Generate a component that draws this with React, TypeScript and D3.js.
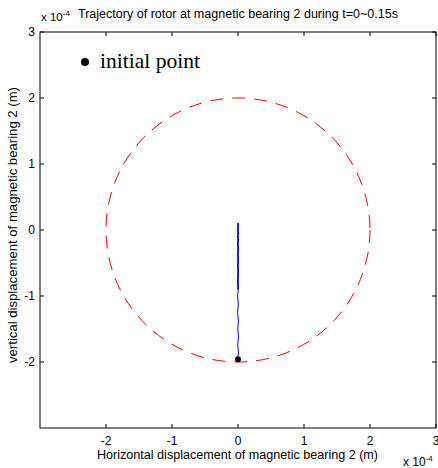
import React, { useRef, useEffect } from 'react';
import * as d3 from 'd3';

// values in units of 1e-4 m
const xTicks = [-2, -1, 0, 1, 2, 3];
const yTicks = [-2, -1, 0, 1, 2, 3];
const clearanceRadius = 2;
const initialPoint = { x: 0, y: -1.96 };
const trajX = [0, 0.006, -0.005, 0.008, -0.004, 0.007, -0.006, 0.005, -0.007, 0.006, -0.005, 0.008, -0.006, 0.009, -0.008, 0.01, -0.009, 0.011, -0.01, 0.012, -0.011, 0.012, -0.012, 0.013, -0.012, 0.013];
const trajY = [-1.96, -1.85, -1.74, -1.62, -1.5, -1.38, -1.25, -1.12, -1.0, -0.88, -0.76, -0.64, -0.54, -0.44, -0.36, -0.28, -0.21, -0.15, -0.1, -0.05, -0.01, 0.03, 0.06, 0.08, 0.09, 0.1];

const App = () => {
  const svgRef = useRef<SVGSVGElement>(null);

  useEffect(() => {
    const svg = d3.select(svgRef.current);
    svg.selectAll('*').remove();

    const left = 40, right = 436, top = 32, bottom = 428;
    const x = d3.scaleLinear().domain([-3, 3]).range([left, right]);
    const y = d3.scaleLinear().domain([-3, 3]).range([bottom, top]);
    const font = 'Arial, "Liberation Sans", sans-serif';

    // clearance circle
    svg.append('circle')
      .attr('cx', x(0))
      .attr('cy', y(0))
      .attr('r', x(clearanceRadius) - x(0))
      .attr('fill', 'none')
      .attr('stroke', '#ff0000')
      .attr('stroke-width', 1)
      .attr('stroke-dasharray', '13,9');

    // rotor trajectory
    const pts = trajY.map((v, i) => [trajX[i], v] as [number, number]);
    const line = d3.line<[number, number]>().x(d => x(d[0])).y(d => y(d[1]));
    svg.append('path')
      .attr('d', line(pts))
      .attr('fill', 'none')
      .attr('stroke', '#0000ff')
      .attr('stroke-width', 1);
    svg.append('rect')
      .attr('x', x(-0.012))
      .attr('y', y(0.1))
      .attr('width', x(0.012) - x(-0.012))
      .attr('height', y(-0.9) - y(0.1))
      .attr('fill', '#0000ff');

    svg.append('circle')
      .attr('cx', x(initialPoint.x))
      .attr('cy', y(initialPoint.y))
      .attr('r', 3)
      .attr('fill', '#000');

    // frame
    svg.append('rect')
      .attr('x', left).attr('y', top)
      .attr('width', right - left).attr('height', bottom - top)
      .attr('fill', 'none').attr('stroke', '#000').attr('stroke-width', 1);

    // ticks
    const tl = 4;
    xTicks.forEach(t => {
      svg.append('line').attr('x1', x(t)).attr('x2', x(t)).attr('y1', bottom).attr('y2', bottom - tl).attr('stroke', '#000');
      svg.append('line').attr('x1', x(t)).attr('x2', x(t)).attr('y1', top).attr('y2', top + tl).attr('stroke', '#000');
      svg.append('text').attr('x', x(t)).attr('y', bottom + 17).attr('text-anchor', 'middle')
        .attr('font-family', font).attr('font-size', 12).text(t);
    });
    yTicks.forEach(t => {
      svg.append('line').attr('x1', left).attr('x2', left + tl).attr('y1', y(t)).attr('y2', y(t)).attr('stroke', '#000');
      svg.append('line').attr('x1', right).attr('x2', right - tl).attr('y1', y(t)).attr('y2', y(t)).attr('stroke', '#000');
      svg.append('text').attr('x', left - 5).attr('y', y(t) + 4).attr('text-anchor', 'end')
        .attr('font-family', font).attr('font-size', 12).text(t);
    });

    // exponent labels
    const expTop = svg.append('text').attr('x', 41).attr('y', 21).attr('font-family', font).attr('font-size', 11.5);
    expTop.append('tspan').text('x 10');
    expTop.append('tspan').attr('dy', -5).attr('font-size', 8).text('-4');
    const expBot = svg.append('text').attr('x', 403).attr('y', 466).attr('font-family', font).attr('font-size', 12);
    expBot.append('tspan').text('x 10');
    expBot.append('tspan').attr('dy', -5).attr('font-size', 8).text('-4');

    // title and axis labels
    svg.append('text').attr('x', 78).attr('y', 18).attr('font-family', font).attr('font-size', 12)
      .attr('textLength', 320).attr('lengthAdjust', 'spacingAndGlyphs')
      .text('Trajectory of rotor at magnetic bearing 2 during t=0~0.15s');
    svg.append('text').attr('x', 97).attr('y', 459)
      .attr('font-family', font).attr('font-size', 12.5)
      .attr('textLength', 281).attr('lengthAdjust', 'spacingAndGlyphs')
      .text('Horizontal displacement of magnetic bearing 2 (m)');
    svg.append('text')
      .attr('transform', `translate(17,363) rotate(-90)`)
      .attr('font-family', font).attr('font-size', 12.5)
      .attr('textLength', 276).attr('lengthAdjust', 'spacingAndGlyphs')
      .text('vertical displacement of magnetic bearing 2 (m)');

    // legend
    svg.append('circle').attr('cx', 85).attr('cy', 62).attr('r', 4).attr('fill', '#000');
    svg.append('text').attr('x', 100).attr('y', 68)
      .attr('font-family', '"Times New Roman", "Liberation Serif", serif').attr('font-size', 21)
      .attr('textLength', 100).attr('lengthAdjust', 'spacingAndGlyphs')
      .text('initial point');
  }, []);

  return (
    <svg ref={svgRef} width={438} height={468} style={{ position: 'absolute', left: 0, top: 0 }} />
  );
};

export default App;
